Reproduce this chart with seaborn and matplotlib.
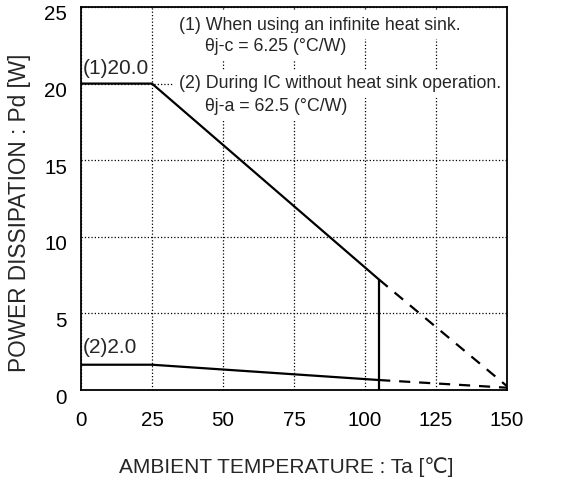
import matplotlib
matplotlib.use("Agg")
import matplotlib.pyplot as plt
import matplotlib.transforms as mtrans
import seaborn as sns
import pandas as pd

# ---- data ----
ta_solid = [0, 25, 105]
pd_heatsink = [20.0, 20.0, 7.2]      # (1) infinite heat sink
pd_noheatsink = [1.65, 1.65, 0.65]   # (2) without heat sink
ta_dash = [105, 150]
pd_heatsink_dash = [7.2, 0.25]
pd_noheatsink_dash = [0.65, 0.15]
ta_limit = 105

x_ticks = [0, 25, 50, 75, 100, 125, 150]
y_ticks = [0, 5, 10, 15, 20, 25]

sns.set_style("white")
plt.rcParams['font.family'] = ['Liberation Sans', 'DejaVu Sans']

fig = plt.figure(figsize=(5.61, 4.79), dpi=100)
ax = fig.add_axes([0.1444, 0.1858, 0.7593, 0.7996])

solid = pd.DataFrame({"ta": ta_solid, "p1": pd_heatsink, "p2": pd_noheatsink})
dash = pd.DataFrame({"ta": ta_dash, "p1": pd_heatsink_dash, "p2": pd_noheatsink_dash})

for col in ["p1", "p2"]:
    sns.lineplot(data=solid, x="ta", y=col, ax=ax, color="black", lw=1.6, zorder=3)
    sns.lineplot(data=dash, x="ta", y=col, ax=ax, color="black", lw=1.6,
                 dashes=False, linestyle=(0, (5, 4)), zorder=3)

# vertical cut-off at Ta = 105
ax.plot([ta_limit, ta_limit], [0, pd_heatsink[-1]], color="black", lw=1.6, zorder=3)

ax.set_xlim(0, 150)
ax.set_ylim(0, 25)
ax.set_xticks(x_ticks)
ax.set_yticks(y_ticks)
ax.tick_params(length=0, labelsize=14.8, colors="black")
ax.tick_params(axis="x", pad=15)
ax.tick_params(axis="y", pad=10)
# y labels sit a little below their grid lines in the original
offset = mtrans.ScaledTranslation(0, -6 / 100, fig.dpi_scale_trans)
for lab in ax.get_yticklabels():
    lab.set_transform(lab.get_transform() + offset)

ax.grid(True, linestyle=":", color="black", lw=0.9)
for s in ax.spines.values():
    s.set_color("black")
    s.set_linewidth(1.3)

ax.set_xlabel("AMBIENT TEMPERATURE : Ta [\u2103]", fontsize=15)
ax.set_ylabel("POWER DISSIPATION : Pd [W]", fontsize=16.3)
ax.xaxis.set_label_coords(0.481, -0.175)
ax.yaxis.set_label_coords(-0.117, 0.462)

# notes sit on white boxes that hide the grid but stay under the frame
box = dict(facecolor="white", edgecolor="none", pad=4)
note_kw = dict(fontsize=12.8, va="center", bbox=box, zorder=2.4)
ax.text(34.5, 23.8, "(1) When using an infinite heat sink.", **note_kw)
ax.text(43.7, 22.4, "\u03b8j-c = 6.25 (\u00b0C/W)", **note_kw)
ax.text(34.5, 20.0, "(2) During IC without heat sink operation.", **note_kw)
ax.text(43.7, 18.5, "\u03b8j-a = 62.5 (\u00b0C/W)", **note_kw)

ax.text(0.6, 21.0, "(1)20.0", fontsize=15, va="center")
ax.text(0.6, 2.75, "(2)2.0", fontsize=15, va="center")

fig.savefig("out.png", dpi=100)
